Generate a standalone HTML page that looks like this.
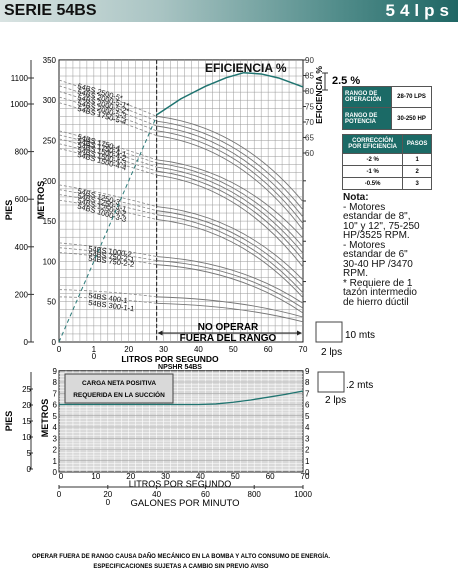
<!DOCTYPE html>
<html><head><meta charset="utf-8"><style>
body{margin:0;width:458px;height:579px;background:#fff;font-family:"Liberation Sans",sans-serif;overflow:hidden}
#hdr{position:absolute;left:0;top:0;width:458px;height:22px;background:linear-gradient(90deg,#d9e3e2 0%,#a9c4c3 35%,#4f8b89 75%,#1f6664 100%)}
.t{position:absolute}
table{border-collapse:collapse;position:absolute;font-size:6px;font-weight:bold}
td{border:1px solid #555;padding:0 2px}
.tl{background:#1b6a66;color:#fff}
</style></head><body>
<div id="hdr"></div>
<div class="t" style="left:4px;top:2px;font-size:16px;font-weight:900;color:#111">SERIE 54BS</div>
<div class="t" style="right:4px;top:1px;font-size:17px;font-weight:900;color:#fff;letter-spacing:5px">54lps</div>

<svg id="chart" width="458" height="579" style="position:absolute;left:0;top:0" font-family="Liberation Sans, sans-serif"></svg>

<table style="left:342px;top:86px;width:90px">
<tr style="height:21px"><td class="tl">RANGO DE<br>OPERACIÓN</td><td style="text-align:center">28-70 LPS</td></tr>
<tr style="height:22px"><td class="tl">RANGO DE<br>POTENCIA</td><td style="text-align:center">30-250 HP</td></tr></table>
<table style="left:342px;top:134px;width:90px;text-align:center">
<tr style="height:19px" class="tl"><td>CORRECCIÓN<br>POR EFICIENCIA</td><td>PASOS</td></tr>
<tr style="height:12px"><td>-2 %</td><td>1</td></tr>
<tr style="height:12px"><td>-1 %</td><td>2</td></tr>
<tr style="height:12px"><td>-0.5%</td><td>3</td></tr></table>
<div class="t" style="left:343px;top:193px;font-size:10px;line-height:9.5px;color:#111"><b>Nota:</b><br>- Motores<br>estandar de 8",<br>10" y 12", 75-250<br>HP/3525 RPM.<br>- Motores<br>estandar de 6"<br>30-40 HP /3470<br>RPM.<br>* Requiere de 1<br>tazón intermedio<br>de hierro dúctil</div>
<div class="t" style="left:0;width:362px;top:552px;text-align:center;font-size:6px;font-weight:bold;line-height:10px">OPERAR FUERA DE RANGO CAUSA DAÑO MECÁNICO EN LA BOMBA Y ALTO CONSUMO DE ENERGÍA.<br>ESPECIFICACIONES SUJETAS A CAMBIO SIN PREVIO AVISO</div>

<script>
const modelLabels=["54BS 2500-5*","54BS 2000-5-1*","54BS 2000-5-2*","54BS 2000-5-3","54BS 1750-5-4","54BS 1750-4","54BS 1750-4-1","54BS 1500-4-2","54BS 1500-4-3","54BS 1500-4-4","54BS 1250-3","54BS 1250-3-1","54BS 1250-3-2","54BS 1000-3-3","54BS 1000-2","54BS 750-2-1","54BS 750-2-2","54BS 400-1","54BS 300-1-1"];
const headAt28=[280,274,268,262,256,226,222,217,212,207,168,163,158,152,106,101,96,56,48];
const headAt70=[174,164,155,147,139,129,118,110,102,93,77,69,61,55,48,42,36,31,25];
const headShutoff=[325,318,311,304,297,262,257,252,246,240,195,189,183,176,123,117,111,65,56];
const effFlow=[28,35,42,48,53,58,63,70];
const effValues=[72.3,77.5,81.5,84.3,85.9,85.5,84.2,81.3];
const npshFlow=[0,10,20,30,40,45,50,55,60,65,70];
const npshValues=[6,6,6,6,6,6.05,6.2,6.4,6.65,6.9,7.2];
const meterTicks=[0,50,100,150,200,250,300,350];
const feetTicks=[0,200,400,600,800,1000,1100];
const effTicks=[60,65,70,75,80,85,90];
const lpsTicks=[0,10,20,30,40,50,60,70];
const npshTicks=[0,1,2,3,4,5,6,7,8,9];
const npshFeetTicks=[0,5,10,15,20,25];
const gpmTicks=[0,200,400,600,800,1000];

const svg=document.getElementById('chart');
const NS='http://www.w3.org/2000/svg';
function mk(tag,at,txt){const e=document.createElementNS(NS,tag);for(const k in at)e.setAttribute(k,at[k]);if(txt!==undefined)e.textContent=txt;svg.appendChild(e);return e;}
const X0=59,X1=303;
const x=q=>X0+q*(X1-X0)/70;
const y=m=>342-m*0.806;
const yE=e=>60+(90-e)*3.1;
const yN=n=>472-n*11.25;
const yNF=f=>469-f*3.2;
const xG=g=>X0+g*(X1-X0)/1000;

let r=mk('rect',{x:X0,y:y(350),width:X1-X0,height:y(0)-y(350),fill:'#fff',stroke:'#222','stroke-width':1});

for(let q=2;q<70;q+=2){let l=mk('line',{x1:x(q),x2:x(q),y1:y(350),y2:y(0),stroke:'#999','stroke-width':0.5});}
for(let m=10;m<350;m+=10){let l=mk('line',{x1:X0,x2:X1,y1:y(m),y2:y(m),stroke:'#999','stroke-width':0.5});}
let dv=mk('line',{x1:x(28),x2:x(28),y1:y(350),y2:y(0),stroke:'#333','stroke-width':1.2,'stroke-dasharray':'4,2'});


for(let i=0;i<modelLabels.length;i++){
 const a=headAt28[i],b=headAt70[i],s=headShutoff[i];
 let d=`M${x(0)},${y(s)} Q${x(14)},${y((s+a)/2+3)} ${x(28)},${y(a)}`;
 let dl=mk('path',{d:d,fill:'none',stroke:'#888','stroke-width':0.8,'stroke-dasharray':'3,2'});
 
 let c=mk('path',{d:`M${x(28)},${y(a)} Q${x(52)},${y(a-(a-b)*0.12)} ${x(70)},${y(b)}`,fill:'none',stroke:'#777','stroke-width':0.9});
 
 const lx=i>=14?88:77, lyv=y(headShutoff[i]-10);
 let t=mk('text',{x:lx,y:lyv,'font-size':7.5,fill:'#111',transform:`rotate(${i>=14?8:16} ${lx} ${lyv})`},modelLabels[i]);
 
}
let od=mk('line',{x1:x(0),y1:y(0),x2:x(28),y2:y(280),stroke:'#2a7a78','stroke-width':1,'stroke-dasharray':'4,3'});

let ed='';effFlow.forEach((q,i)=>{ed+=(i?'L':'M')+x(q)+','+yE(effValues[i]);});
let ec=mk('path',{d:ed,fill:'none',stroke:'#1f7470','stroke-width':1.5,'stroke-linejoin':'round'});

let et=mk('text',{x:205,y:72,'font-size':12,'font-weight':'bold',fill:'#111'},'EFICIENCIA %');


meterTicks.forEach(m=>{let t=mk('text',{x:56,y:y(m)+3,'font-size':8,'text-anchor':'end'},m);});
let pl=mk('line',{x1:31,x2:31,y1:60,y2:342,stroke:'#333'});
feetTicks.forEach(f=>{let yy=f==1100?78:(f==1000?104:342-(342-104)*f/1000);mk('line',{x1:28,x2:34,y1:yy,y2:yy,stroke:'#333'});let t=mk('text',{x:28,y:yy+3,'font-size':8,'text-anchor':'end'},f);});
effTicks.forEach(e=>{mk('line',{x1:X1,x2:X1+3,y1:yE(e),y2:yE(e),stroke:'#333'});let t=mk('text',{x:305,y:yE(e)+3,'font-size':8,fill:'#333'},e);});
for(let m=50;m<220;m+=25){mk('line',{x1:X1,x2:X1+3,y1:y(m),y2:y(m),stroke:'#333'});}
lpsTicks.forEach(q=>{let t=mk('text',{x:x(q),y:352,'font-size':8,'text-anchor':'middle'},q==10?'1':q);});
mk('text',{x:x(10),y:359,'font-size':8,'text-anchor':'middle'},'0');
let lx=mk('text',{x:170,y:362,'font-size':8.5,'font-weight':'bold','text-anchor':'middle'},'LITROS POR SEGUNDO');
let ly=mk('text',{x:44,y:200,'font-size':9,'font-weight':'bold',transform:'rotate(-90 44 200)','text-anchor':'middle'},'METROS');
let lp=mk('text',{x:12,y:210,'font-size':9,'font-weight':'bold',transform:'rotate(-90 12 210)','text-anchor':'middle'},'PIES');
let le=mk('text',{x:322,y:95,'font-size':8.5,'font-weight':'bold',transform:'rotate(-90 322 95)','text-anchor':'middle'},'EFICIENCIA %');
mk('path',{d:'M322,73 H328 M325,73 V90 M322,90 H328',stroke:'#333',fill:'none'});
let pc=mk('text',{x:332,y:84,'font-size':11,'font-weight':'bold'},'2.5 %');
mk('line',{x1:x(28)+2,x2:X1-2,y1:333,y2:333,stroke:'#222','stroke-width':1});
mk('path',{d:`M${x(28)+1},333 l5,-2.5 v5z M${X1-1},333 l-5,-2.5 v5z`,fill:'#222'});
let no=mk('text',{x:228,y:330,'font-size':10,'font-weight':'bold','text-anchor':'middle'},'NO OPERAR');
mk('text',{x:228,y:341,'font-size':10,'font-weight':'bold','text-anchor':'middle'},'FUERA DEL RANGO');
mk('rect',{x:316,y:322,width:26,height:20,fill:'#fff',stroke:'#444'});
mk('text',{x:345,y:338,'font-size':10},'10 mts');mk('text',{x:321,y:355,'font-size':10},'2 lps');
mk('rect',{x:318,y:372,width:26,height:20,fill:'#fff',stroke:'#444'});
mk('text',{x:346,y:388,'font-size':10},'.2 mts');mk('text',{x:325,y:403,'font-size':10},'2 lps');

let nr=mk('rect',{x:X0,y:yN(9),width:X1-X0,height:yN(0)-yN(9),fill:'#d9d9d9',stroke:'#222'});

for(let q=2;q<70;q+=2)mk('line',{x1:x(q),x2:x(q),y1:yN(9),y2:yN(0),stroke:'#fff','stroke-width':0.6});
for(let n=0.25;n<9;n+=0.25)mk('line',{x1:X0,x2:X1,y1:yN(n),y2:yN(n),stroke:'#fff','stroke-width':0.5});
for(let n=1;n<9;n++)mk('line',{x1:X0,x2:X1,y1:yN(n),y2:yN(n),stroke:'#999','stroke-width':0.5});
mk('rect',{x:65,y:374,width:108,height:29,fill:'#d9d9d9',stroke:'#444','stroke-width':1});
mk('text',{x:119,y:385,'font-size':6.5,'font-weight':'bold','text-anchor':'middle'},'CARGA NETA POSITIVA');
mk('text',{x:119,y:397,'font-size':6.5,'font-weight':'bold','text-anchor':'middle'},'REQUERIDA EN LA SUCCIÓN');
let nd='';npshFlow.forEach((q,i)=>{nd+=(i?'L':'M')+x(q)+','+yN(npshValues[i]);});
let nc=mk('path',{d:nd,fill:'none',stroke:'#1f7470','stroke-width':1.3});
let nt=mk('text',{x:180,y:369,'font-size':7,'font-weight':'bold','text-anchor':'middle'},'NPSHR 54BS');
npshTicks.forEach(n=>{mk('text',{x:57,y:yN(n)+3,'font-size':8,'text-anchor':'end'},n);mk('text',{x:305,y:yN(n)+3,'font-size':8},n);});
mk('line',{x1:31,x2:31,y1:372,y2:469,stroke:'#333'});
npshFeetTicks.forEach(f=>{mk('line',{x1:29,x2:33,y1:yNF(f),y2:yNF(f),stroke:'#333'});mk('text',{x:31,y:yNF(f)+3,'font-size':8,'text-anchor':'end'},f);});
mk('text',{x:12,y:421,'font-size':9,'font-weight':'bold',transform:'rotate(-90 12 421)','text-anchor':'middle'},'PIES');
mk('text',{x:48,y:418,'font-size':9,'font-weight':'bold',transform:'rotate(-90 48 418)','text-anchor':'middle'},'METROS');
lpsTicks.forEach(q=>{mk('text',{x:x(q)+2,y:479,'font-size':8,'text-anchor':'middle'},q);});
mk('text',{x:180,y:487,'font-size':9,'text-anchor':'middle'},'LITROS POR SEGUNDO');
mk('line',{x1:X0,x2:X1,y1:487,y2:487,stroke:'#333'});
gpmTicks.forEach(g=>{mk('line',{x1:xG(g),x2:xG(g),y1:485,y2:489,stroke:'#333'});let lab=g==200?'20':g==400?'40':g==600?'60':g;let t=mk('text',{x:xG(g),y:497,'font-size':8,'text-anchor':'middle'},lab);});
mk('text',{x:xG(200),y:505,'font-size':8,'text-anchor':'middle'},'0');
mk('text',{x:185,y:506,'font-size':9.5,'text-anchor':'middle'},'GALONES POR MINUTO');
</script>
</body></html>
